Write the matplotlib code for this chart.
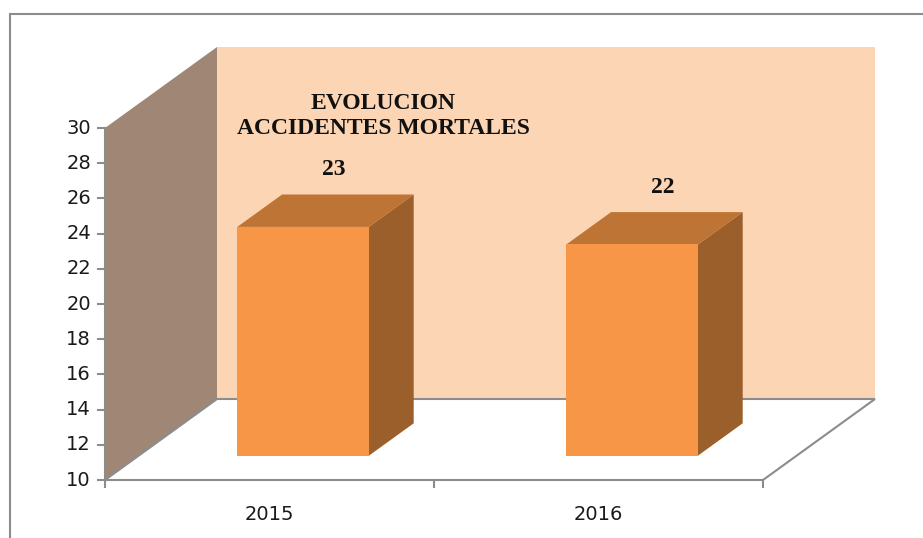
import matplotlib
matplotlib.use("Agg")
import matplotlib.pyplot as plt
from matplotlib.patches import Polygon

# data
years = ["2015", "2016"]
deaths = [23, 22]
title = "EVOLUCION\nACCIDENTES MORTALES"
y_min, y_max, y_step = 10, 30, 2

# layout of the fake 3D box (pixels)
left, front_y = 105, 480
cat_w = 329
unit = 17.6
depth_dx, depth_dy = 112, -81
bar_half = 0.2
bar_d0, bar_d1 = 0.3, 0.7


def proj(xc, v, d):
    # xc in category units, v in value units, d in depth fraction (0 front, 1 back)
    px = left + xc * cat_w + d * depth_dx
    py = front_y - (v - y_min) * unit + d * depth_dy
    return (px, py)


fig = plt.figure(figsize=(9.23, 5.38), dpi=100)
ax = fig.add_axes([0, 0, 1, 1])
ax.set_xlim(0, 923)
ax.set_ylim(538, 0)
ax.axis("off")

n = len(years)
edge = "#8c8c8c"

# walls
ax.add_patch(Polygon([proj(0, y_min, 0), proj(0, y_min, 1), proj(0, y_max, 1), proj(0, y_max, 0)],
                     closed=True, fc="#a08775", ec="none"))
ax.add_patch(Polygon([proj(0, y_min, 1), proj(n, y_min, 1), proj(n, y_max, 1), proj(0, y_max, 1)],
                     closed=True, fc="#fcd5b4", ec="none"))
# floor
floor = [proj(0, y_min, 0), proj(n, y_min, 0), proj(n, y_min, 1), proj(0, y_min, 1)]
ax.add_patch(Polygon(floor, closed=True, fc="white", ec=edge, lw=1.5))

# y axis
ax.plot(*zip(proj(0, y_min, 0), proj(0, y_max, 0)), color=edge, lw=1.5)
for v in range(y_min, y_max + 1, y_step):
    x, y = proj(0, v, 0)
    ax.plot([x - 7, x], [y, y], color=edge, lw=1.5)
    ax.text(x - 14, y, str(v), ha="right", va="center", fontsize=14, color="#1a1a1a")

# category ticks and labels
for i in range(n + 1):
    x, y = proj(i, y_min, 0)
    ax.plot([x, x], [y, y + 7], color=edge, lw=1.5)
for i, yr in enumerate(years):
    x, y = proj(i + 0.5, y_min, 0)
    ax.text(x, y + 35, yr, ha="center", va="center", fontsize=14, color="#1a1a1a")

# bars
for i, v in enumerate(deaths):
    x0, x1 = i + 0.5 - bar_half, i + 0.5 + bar_half
    front = [proj(x0, y_min, bar_d0), proj(x1, y_min, bar_d0), proj(x1, v, bar_d0), proj(x0, v, bar_d0)]
    top = [proj(x0, v, bar_d0), proj(x1, v, bar_d0), proj(x1, v, bar_d1), proj(x0, v, bar_d1)]
    side = [proj(x1, y_min, bar_d0), proj(x1, y_min, bar_d1), proj(x1, v, bar_d1), proj(x1, v, bar_d0)]
    ax.add_patch(Polygon(side, closed=True, fc="#9b5f2c", ec="none"))
    ax.add_patch(Polygon(top, closed=True, fc="#be7434", ec="none"))
    ax.add_patch(Polygon(front, closed=True, fc="#f79646", ec="none"))
    lx, ly = proj(i + 0.5, v, 0.5)
    ax.text(lx + 8, ly - 41, str(v), ha="center", va="center", fontsize=17,
            fontweight="bold", family="Liberation Serif", color="#111111")

ax.text(383, 116, title, ha="center", va="center", fontsize=17, fontweight="bold",
        family="Liberation Serif", color="#111111", linespacing=1.25)

# chart border (top and left visible)
ax.plot([10, 923], [14, 14], color=edge, lw=1.5)
ax.plot([10, 10], [14, 538], color=edge, lw=1.5)

fig.savefig("out.png", dpi=100)
